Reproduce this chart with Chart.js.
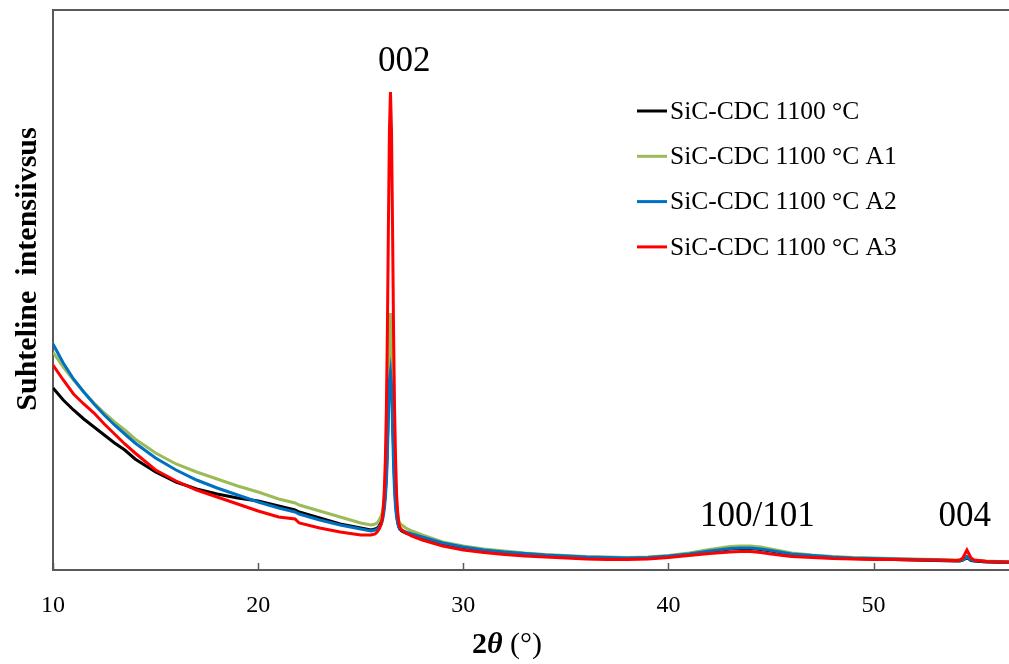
<!DOCTYPE html>
<html>
<head>
<meta charset="utf-8">
<script src="https://cdn.jsdelivr.net/npm/chart.js@4/dist/chart.umd.min.js"></script>
<style>
  html, body { margin: 0; padding: 0; background: #fff; }
  #wrap { width: 1009px; height: 664px; }
</style>
</head>
<body>
<div id="wrap"><canvas id="xrd" width="1009" height="664"></canvas></div>
<script>
// 2theta positions (deg)
const twoTheta = [
    10, 10.5, 11, 11.5, 12, 12.5, 13, 13.5, 14,
    15, 16, 17, 18, 19, 20, 21, 21.8, 22, 23, 24, 25, 25.5,
    25.7, 25.8, 25.9, 26.0, 26.05, 26.1, 26.15, 26.2, 26.25, 26.3, 26.35, 26.4, 26.45,
    26.5, 26.55, 26.6, 26.65, 26.7, 26.75, 26.8, 26.85, 26.9, 27.0, 27.2, 27.5,
    28, 29, 30, 31, 32, 33, 34, 35, 36, 37, 38, 39, 40, 41, 42, 43,
    43.5, 44, 44.5, 45, 46, 47, 48, 49, 50, 51, 52, 53,
    54, 54.2, 54.35, 54.45, 54.55, 54.65, 54.75, 54.9, 55.5, 56.6
];
// relative intensity (arb. units)
const cdc1100 = [
    182, 170, 160, 151, 143, 135, 127, 120, 111,
    98, 88, 81, 76, 72, 69, 64, 60, 58, 52, 46, 42, 40,
    41, 42, 44, 48, 52, 58, 66, 78, 96, 126, 172, 215, 228,
    210, 165, 120, 88, 68, 56, 48, 44, 41, 39, 37, 35,
    32, 26, 22.5, 19.5, 17.5, 16, 14.5, 13.5, 12.5, 12, 11.5, 12, 13.5, 15.5, 18.5, 21,
    21.5, 21.5, 20.5, 19, 15.5, 14, 12.5, 11.5, 11, 10.5, 10, 9.5,
    9, 9, 10, 11, 12, 11, 9.5, 9, 8, 7.5
];
const cdc1100A1 = [
    218, 203, 190, 178, 167, 157, 148, 140, 131,
    117, 106, 98, 91, 84, 78, 71, 67, 65, 59, 53, 47, 45,
    46, 47, 50, 54, 58, 64, 72, 85, 105, 140, 190, 240, 257,
    235, 185, 135, 100, 78, 64, 55, 50, 47, 45, 42, 39,
    35, 28, 24, 21, 19, 17, 15.5, 14.5, 13.5, 13, 12.5, 13, 14.5, 17, 20.5, 23.5,
    24, 24, 23, 21, 17, 15, 13.5, 12.5, 12, 11.5, 11, 10.5,
    10, 10, 10.5, 12, 13, 12, 10.5, 10, 9, 8
];
const cdc1100A2 = [
    226, 207, 191, 178, 166, 155, 145, 136, 127,
    112, 100, 90, 82, 75, 68, 62, 58, 56, 50, 45, 41, 39,
    40, 41, 43, 46, 49, 54, 61, 72, 88, 115, 155, 190, 198,
    185, 145, 105, 78, 62, 53, 47, 43, 41, 40, 38, 36,
    33, 27, 23, 20, 18, 16.5, 15, 14, 13, 12.5, 12, 12.5, 14, 16, 19, 21.5,
    22, 22, 21, 19.5, 16, 14.5, 13, 12, 11.5, 11, 10.5, 10,
    9.5, 9.5, 10.5, 12, 13.5, 11.5, 10, 9.5, 8.5, 8
];
const cdc1100A3 = [
    205, 190, 176, 166, 157, 146, 136, 126, 117,
    100, 89, 80, 73, 66, 59, 53, 51, 47, 42, 38, 35, 35,
    36, 38, 41, 46, 52, 62, 80, 110, 160, 240, 345, 440, 478,
    440, 345, 240, 160, 110, 75, 58, 48, 43, 40, 37, 34,
    30, 24, 20, 17.5, 15.5, 14, 13, 12, 11, 10.5, 10.5, 11, 12.5, 14.5, 16.5, 18,
    18.5, 18.5, 17.5, 16, 13.5, 12.5, 11.5, 11, 10.5, 10.5, 10, 10,
    9.5, 10, 12, 16, 20, 16, 12, 10, 8.5, 8
];

const seriesNames = ['SiC-CDC 1100 °C', 'SiC-CDC 1100 °C A1', 'SiC-CDC 1100 °C A2', 'SiC-CDC 1100 °C A3'];
const seriesColors = ['#000000', '#9bbb59', '#0070c0', '#ff0000'];
const xTicks = [10, 20, 30, 40, 50];

// reflection labels: text, 2theta, intensity of label centre
const peakNames = ['002', '100/101', '004'];
const peakTheta = [27.12, 44.34, 54.44];
const peakLevel = [508, 53, 53];

const serif = "'Liberation Serif', 'Times New Roman', serif";
const axisGrey = '#595959';

const toPoints = ys => twoTheta.map((x, i) => ({ x: x, y: ys[i] }));
const allSeries = [cdc1100, cdc1100A1, cdc1100A2, cdc1100A3];
// lower order is drawn last (on top): red, then blue, green, black
const drawOrder = [3, 2, 1, 0];

const extras = {
    id: 'extras',
    afterDraw(chart) {
        const ctx = chart.ctx;
        const area = chart.chartArea;
        const xs = chart.scales.x, ys = chart.scales.y;
        ctx.save();
        // top frame line
        ctx.strokeStyle = axisGrey;
        ctx.lineWidth = 2;
        ctx.beginPath();
        ctx.moveTo(area.left - 1, area.top);
        ctx.lineTo(area.right, area.top);
        ctx.stroke();
        // inward tick marks
        ctx.lineWidth = 1.5;
        xTicks.forEach(v => {
            const px = Math.round(xs.getPixelForValue(v)) + 0.5;
            ctx.beginPath();
            ctx.moveTo(px, area.bottom);
            ctx.lineTo(px, area.bottom - 7);
            ctx.stroke();
        });
        // reflection labels
        ctx.fillStyle = '#000';
        ctx.font = '35px ' + serif;
        ctx.textAlign = 'center';
        ctx.textBaseline = 'middle';
        peakNames.forEach((t, i) => {
            ctx.fillText(t, xs.getPixelForValue(peakTheta[i]), ys.getPixelForValue(peakLevel[i]));
        });
        // legend
        ctx.font = '25.5px ' + serif;
        ctx.textAlign = 'left';
        chart.data.datasets.forEach((ds, i) => {
            const y = 111 + i * 45.3;
            ctx.strokeStyle = ds.borderColor;
            ctx.lineWidth = 3;
            ctx.beginPath();
            ctx.moveTo(637, y);
            ctx.lineTo(667, y);
            ctx.stroke();
            ctx.fillText(ds.label, 670, y + 1);
        });
        // x title: 2θ (°)
        ctx.textAlign = 'left';
        ctx.textBaseline = 'alphabetic';
        const parts = [['bold 30px ', '2'], ['italic bold 30px ', 'θ'], ['30px ', ' (°)']];
        let w = 0;
        parts.forEach(p => { ctx.font = p[0] + serif; w += ctx.measureText(p[1]).width; });
        let cx = 507 - w / 2;
        parts.forEach(p => {
            ctx.font = p[0] + serif;
            ctx.fillText(p[1], cx, 653);
            cx += ctx.measureText(p[1]).width;
        });
        // y title
        ctx.translate(28, 269);
        ctx.rotate(-Math.PI / 2);
        ctx.textAlign = 'center';
        ctx.textBaseline = 'middle';
        ctx.font = 'bold 30px ' + serif;
        ctx.fillText('Suhteline  intensiivsus', 0, 0);
        ctx.restore();
    }
};

new Chart(document.getElementById('xrd'), {
    type: 'line',
    data: {
        datasets: allSeries.map((ys, i) => ({
            label: seriesNames[i],
            data: toPoints(ys),
            borderColor: seriesColors[i],
            borderWidth: 3,
            pointRadius: 0,
            tension: 0,
            fill: false,
            order: drawOrder[i]
        }))
    },
    options: {
        responsive: false,
        animation: false,
        layout: { padding: { top: 10, left: 0, right: 0, bottom: 0 } },
        plugins: { legend: { display: false }, tooltip: { enabled: false } },
        scales: {
            x: {
                type: 'linear',
                min: 10,
                max: 56.6,
                afterBuildTicks: s => { s.ticks = xTicks.map(v => ({ value: v })); },
                afterFit: s => { s.height = 94; },
                grid: { display: false, drawTicks: false },
                border: { display: true, color: axisGrey, width: 2 },
                ticks: { color: '#000', padding: 21, font: { family: serif, size: 24 } }
            },
            y: {
                min: 0,
                max: 560,
                afterFit: s => { s.width = 53; },
                grid: { display: false, drawTicks: false },
                border: { display: true, color: axisGrey, width: 2 },
                ticks: { display: false }
            }
        }
    },
    plugins: [extras]
});
</script>
</body>
</html>
